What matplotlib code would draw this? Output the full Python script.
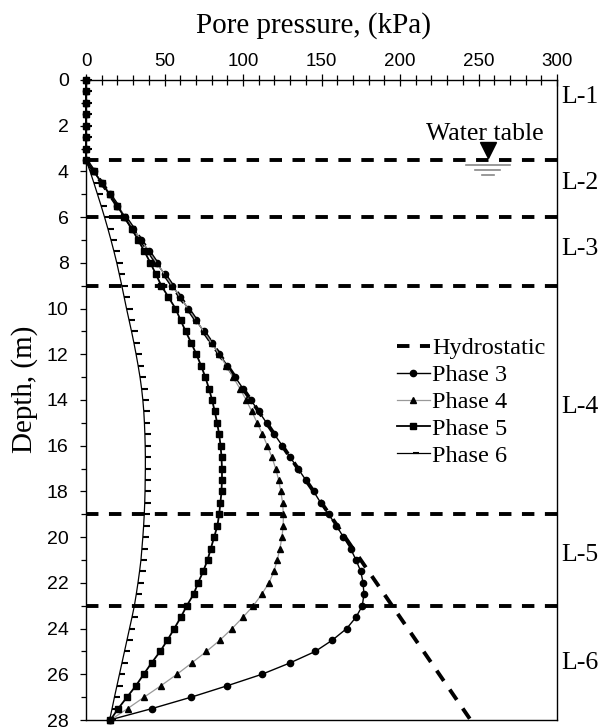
import numpy as np
import matplotlib
matplotlib.use('Agg')
import matplotlib.pyplot as plt
from matplotlib.path import Path
from matplotlib.ticker import MultipleLocator

# depth of each reading (m), every 0.5 m from surface to 28 m
depth = np.arange(0, 28.5, 0.5)

phase3 = [0, 0, 0, 0, 0, 0, 0, 0,
          5, 10, 15, 20, 25, 30, 35, 40, 45, 50, 55, 60, 65, 70, 75, 80, 85,
          90, 95, 100, 105, 110, 115, 120, 125, 130, 135, 140, 145, 149.5, 154.5,
          159.5, 164, 168.5, 172, 175, 176.5, 177, 176, 172, 166, 157, 146, 130,
          112, 90, 67, 42, 15]
phase4 = [0, 0, 0, 0, 0, 0, 0, 0,
          5, 10, 15, 20, 25, 30, 35, 40, 45, 50, 55, 60, 65, 70, 75, 80, 84.8,
          89.3, 93.7, 98, 102, 105.6, 109, 112.4, 115.5, 118.4, 120.8, 122.7,
          124.1, 125.2, 125.7, 125.6, 124.8, 123.5, 121.8, 119.7, 116.5, 111.9,
          106.6, 100, 93, 85.4, 76.7, 67.4, 57.9, 47.7, 37, 26.5, 15.5]
phase5 = [0, 0, 0, 0, 0, 0, 0, 0,
          5, 10, 15, 19.8, 24.5, 29, 33.2, 37.2, 41, 44.5, 48, 52.5, 57, 60.2,
          63.5, 67, 70.3, 73.3, 76, 78.3, 80.3, 82, 83.5, 84.8, 85.7, 86.3, 86.6,
          86.6, 86.3, 85.6, 84.8, 83.7, 81.6, 79.5, 77.4, 74.6, 71.4, 68.5, 64.2,
          60.4, 56.2, 51.9, 47.2, 41.8, 36.7, 31.8, 26.1, 20.5, 15.5]
phase6 = [0, 0, 0, 0, 0, 0, 0, 0,
          2.6, 5, 7.3, 9.6, 11.8, 13.9, 15.9, 17.8, 19.6, 21.2, 22.8, 24.3, 25.8,
          27.4, 29, 30.5, 31.9, 33.2, 34.4, 35.4, 36.2, 36.8, 37.2, 37.5, 37.7,
          37.8, 37.8, 37.7, 37.6, 37.4, 37.1, 36.7, 36.2, 35.6, 35, 34.1, 33.1,
          32, 30.8, 29.3, 27.7, 26.1, 24.5, 22.9, 21.3, 19.7, 18.1, 16.6, 15]

hydro_depth = [3.5, 28]
hydro_p = [0, 245]

layer_bounds = [3.5, 6, 9, 19, 23]
layer_names = ['L-1', 'L-2', 'L-3', 'L-4', 'L-5', 'L-6']
layer_label_depth = [0.75, 4.5, 7.4, 14.3, 20.8, 25.5]
water_table = 3.5

serif = 'Liberation Serif'
sans = 'Liberation Sans'

fig = plt.figure(figsize=(6.04, 7.27), dpi=100)
ax = fig.add_axes([0.1424, 0.0096, 0.7798, 0.8804])

dash = (3.2, 2.7)
for d in layer_bounds:
    ax.axhline(d, color='black', lw=2.8, dashes=dash, zorder=1)

ax.plot(hydro_p, hydro_depth, color='black', lw=2.8, dashes=dash,
        label='Hydrostatic', zorder=2)
ax.plot(phase3, depth, color='black', lw=1.0, marker='o', ms=4.5,
        label='Phase 3', clip_on=False, zorder=4)
ax.plot(phase4, depth, color='#999999', lw=0.9, marker='^', ms=5,
        mfc='black', mec='black', label='Phase 4', clip_on=False, zorder=4)
ax.plot(phase5, depth, color='black', lw=1.3, marker='s', ms=4.5,
        label='Phase 5', clip_on=False, zorder=4)
dash_marker = Path([(0, 0), (1, 0)])
ax.plot(phase6, depth, color='black', lw=0.9, marker=dash_marker, ms=8,
        mew=1.5, label='Phase 6', clip_on=False, zorder=4)

ax.set_xlim(0, 300)
ax.set_ylim(28, 0)

ax.xaxis.set_ticks_position('top')
ax.xaxis.set_label_position('top')
ax.xaxis.set_major_locator(MultipleLocator(50))
ax.xaxis.set_minor_locator(MultipleLocator(10))
ax.yaxis.set_major_locator(MultipleLocator(2))
ax.yaxis.set_minor_locator(MultipleLocator(1))
ax.tick_params(axis='x', which='major', direction='inout', length=9, width=0.9,
               labelsize=13.5, pad=3)
ax.tick_params(axis='x', which='minor', direction='inout', length=7, width=0.9)
ax.tick_params(axis='y', which='major', direction='out', length=4.5, width=0.9,
               labelsize=14, pad=8)
ax.tick_params(axis='y', which='minor', direction='out', length=3.5, width=0.9)
for lab in ax.get_xticklabels() + ax.get_yticklabels():
    lab.set_family(sans)
for s in ax.spines.values():
    s.set_linewidth(1.0)

fig.text(314 / 604, 1 - 26 / 727, 'Pore pressure, (kPa)', family=serif,
         fontsize=21, ha='center', va='center')
fig.text(25 / 604, 1 - 389 / 727, 'Depth, (m)', family=serif, fontsize=21,
         ha='center', va='center', rotation=90)

for name, d in zip(layer_names, layer_label_depth):
    ax.text(302.5, d, name, family=serif, fontsize=18.5, ha='left',
            va='center', clip_on=False)

# water table symbol
ax.text(254, 2.35, 'Water table', family=serif, fontsize=18.5, ha='center',
        va='center')
ax.plot([256], [water_table - 0.43], marker='v', ms=11, color='black',
        ls='none', zorder=5)
for dd, half in [(0.23, 14), (0.44, 8), (0.64, 4)]:
    ax.plot([256 - half, 256 + half], [water_table + dd] * 2, color='#888888',
            lw=1.2, zorder=5)

ax.legend(loc='upper left', bbox_to_anchor=(0.660, 0.598), frameon=False,
          prop={'family': serif, 'size': 17.5}, handlelength=1.35,
          handletextpad=0.1, labelspacing=0.2, borderpad=0, borderaxespad=0)

fig.savefig('out.png', dpi=100)
